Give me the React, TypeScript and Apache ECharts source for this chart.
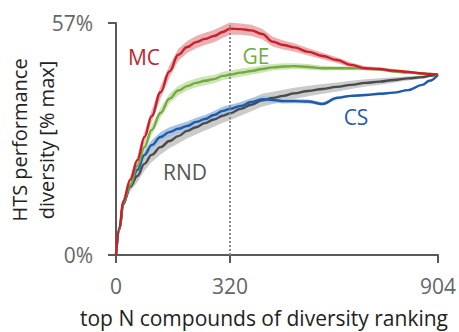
import React, { useEffect, useRef } from "react";
import * as echarts from "echarts";

const xs = [0, 10, 20, 40, 60, 80, 100, 125, 150, 175, 200, 225, 250, 275, 300, 320, 350, 380, 410, 440, 470, 500, 540, 580, 620, 660, 700, 740, 780, 820, 860, 880, 904];

const mc = [0, 6.8, 13.2, 18.5, 23.3, 29, 34.1, 40, 45.1, 49.2, 51.1, 52.3, 53.1, 53.8, 54.8, 55.6, 55.5, 55.2, 54.3, 52.4, 51.6, 51, 49.9, 48.9, 47.9, 46.7, 45.9, 45.7, 45.3, 45, 44.6, 44.5, 44.3];
const ge = [0, 6.5, 12.8, 17.2, 21.9, 26.5, 30.7, 34.9, 38.4, 40.4, 41.5, 42.3, 42.8, 43.2, 44, 44.3, 44.8, 45.2, 45.7, 46.1, 46.3, 46.4, 46.2, 45.9, 45.9, 45.9, 45.8, 45.6, 45.1, 44.8, 44.6, 44.5, 44.3];
const cs = [0, 6.5, 12.5, 17, 20.9, 24.6, 27, 29, 30.2, 31, 31.7, 32.7, 33.4, 34.4, 35.4, 35.9, 36.6, 37.6, 38.3, 38.1, 37.8, 37.8, 37.7, 37.1, 38.6, 39.1, 39.3, 39.6, 39.9, 40.5, 41.8, 42.8, 44.3];
const rnd = [0, 6.3, 12.5, 16.8, 19.4, 22.4, 24.6, 26.5, 28, 29.2, 30.5, 31.4, 32.4, 33.3, 34.2, 34.8, 35.9, 36.9, 38, 38.6, 39.1, 39.7, 40.3, 40.8, 41.3, 41.8, 42.3, 42.6, 43, 43.4, 43.7, 44, 44.3];

// half-widths of the shaded bands
const mcErr = [0, 0.3, 0.6, 0.9, 1.1, 1.3, 1.4, 1.5, 1.5, 1.5, 1.5, 1.5, 1.5, 1.5, 1.5, 1.5, 1.4, 1.4, 1.3, 1.2, 1.1, 1, 0.9, 0.8, 0.7, 0.6, 0.5, 0.45, 0.4, 0.3, 0.2, 0.15, 0];
const geErr = [0, 0.3, 0.5, 0.8, 1, 1.1, 1.2, 1.2, 1.2, 1.2, 1.1, 1.1, 1.1, 1, 1, 1, 1, 0.9, 0.9, 0.8, 0.8, 0.7, 0.7, 0.6, 0.5, 0.5, 0.4, 0.4, 0.3, 0.3, 0.2, 0.1, 0];
const csErr = [0, 0.3, 0.5, 0.8, 1, 1.1, 1.2, 1.2, 1.2, 1.1, 1.1, 1, 1, 1, 1, 1, 0.9, 0.9, 0.8, 0.7, 0.6, 0.5, 0.5, 0.4, 0.4, 0.3, 0.3, 0.3, 0.2, 0.2, 0.2, 0.1, 0];
const rndErr = [0, 0.4, 0.8, 1.2, 1.5, 1.7, 1.8, 1.8, 1.8, 1.8, 1.8, 1.8, 1.8, 1.8, 1.7, 1.7, 1.7, 1.6, 1.6, 1.5, 1.5, 1.4, 1.3, 1.2, 1.1, 1, 0.9, 0.8, 0.7, 0.5, 0.4, 0.3, 0];

const xTicks = [0, 320, 904];
const yTicks = [0, 57];
const markX = 320;

const groups = [
  { name: "RND", vals: rnd, err: rndErr, line: "#4a4a4a", band: "#cbcbcb" },
  { name: "CS", vals: cs, err: csErr, line: "#1f5ca8", band: "#abc3e1" },
  { name: "GE", vals: ge, err: geErr, line: "#70ad3c", band: "#cfe4b8" },
  { name: "MC", vals: mc, err: mcErr, line: "#c8202b", band: "#ebb0b2" },
];

const FONT = "Open Sans";

export default function App() {
  const ref = useRef<HTMLDivElement>(null);
  useEffect(() => {
    const chart = echarts.init(ref.current!, null, { renderer: "svg" });
    const series: any[] = [];
    groups.forEach((g) => {
      const rows = xs.map((x, i) => [x, g.vals[i] - g.err[i], g.vals[i] + g.err[i]]);
      series.push({
        type: "custom",
        name: g.name + " band",
        data: rows,
        silent: true,
        z: 1,
        renderItem: (params: any, api: any) => {
          if (params.dataIndex !== 0) return null;
          const upper = rows.map((r) => api.coord([r[0], r[2]]));
          const lower = rows.map((r) => api.coord([r[0], r[1]])).reverse();
          return {
            type: "polygon",
            shape: { points: upper.concat(lower) },
            style: { fill: g.band, stroke: "none" },
          };
        },
      });
    });
    groups.forEach((g, gi) => {
      series.push({
        type: "line",
        name: g.name,
        data: xs.map((x, i) => [x, g.vals[i]]),
        symbol: "none",
        smooth: 0.4,
        smoothMonotone: "x",
        lineStyle: { color: g.line, width: 2.4 },
        z: 3,
        markLine:
          gi === 0
            ? {
                silent: true,
                symbol: "none",
                label: { show: false },
                lineStyle: { color: "#8a8a8a", type: [2, 2], width: 2 },
                data: [{ xAxis: markX }],
              }
            : undefined,
      });
    });

    chart.setOption({
      animation: false,
      grid: { left: 116, right: 21, top: 23, bottom: 77 },
      xAxis: {
        type: "value",
        min: 0,
        max: 904,
        splitLine: { show: false },
        axisLine: { show: true, lineStyle: { color: "#595959", width: 2 } },
        axisTick: { show: true, length: 8, lineStyle: { color: "#595959", width: 2 }, customValues: xTicks },
        axisLabel: {
          customValues: xTicks,
          color: "#666",
          fontSize: 21,
          fontFamily: FONT,
          margin: 20,
        },
      },
      yAxis: {
        type: "value",
        min: 0,
        max: 57,
        splitLine: { show: false },
        axisLine: { show: true, lineStyle: { color: "#595959", width: 2 } },
        axisTick: { show: true, length: 8, lineStyle: { color: "#595959", width: 2 }, customValues: yTicks },
        axisLabel: {
          customValues: yTicks,
          formatter: (v: number) => v + "%",
          color: "#666",
          fontSize: 21,
          fontFamily: FONT,
          margin: 23,
        },
      },
      graphic: [
        {
          type: "text",
          x: 33,
          y: 140,
          rotation: Math.PI / 2,
          z: 10,
          style: {
            text: "HTS performance\ndiversity [% max]",
            fill: "#222",
            fontSize: 20,
            fontFamily: FONT,
            align: "center",
            verticalAlign: "middle",
            lineHeight: 27,
          },
        },
        {
          type: "text",
          x: 264,
          y: 318,
          z: 10,
          style: {
            text: "top N compounds of diversity ranking",
            fill: "#222",
            fontSize: 21,
            fontFamily: FONT,
            align: "center",
            verticalAlign: "middle",
          },
        },
        { type: "text", x: 144, y: 57, z: 10, style: { text: "MC", fill: "#c0272d", fontSize: 21, fontFamily: FONT, align: "center", verticalAlign: "middle" } },
        { type: "text", x: 256, y: 56, z: 10, style: { text: "GE", fill: "#70ad3c", fontSize: 21, fontFamily: FONT, align: "center", verticalAlign: "middle" } },
        { type: "text", x: 356, y: 117, z: 10, style: { text: "CS", fill: "#1f5ca8", fontSize: 21, fontFamily: FONT, align: "center", verticalAlign: "middle" } },
        { type: "text", x: 185, y: 172, z: 10, style: { text: "RND", fill: "#555", fontSize: 21, fontFamily: FONT, align: "center", verticalAlign: "middle" } },
      ],
      series,
    });
    return () => chart.dispose();
  }, []);
  return <div ref={ref} style={{ width: 459, height: 332, position: "absolute", left: 0, top: 0 }} />;
}
